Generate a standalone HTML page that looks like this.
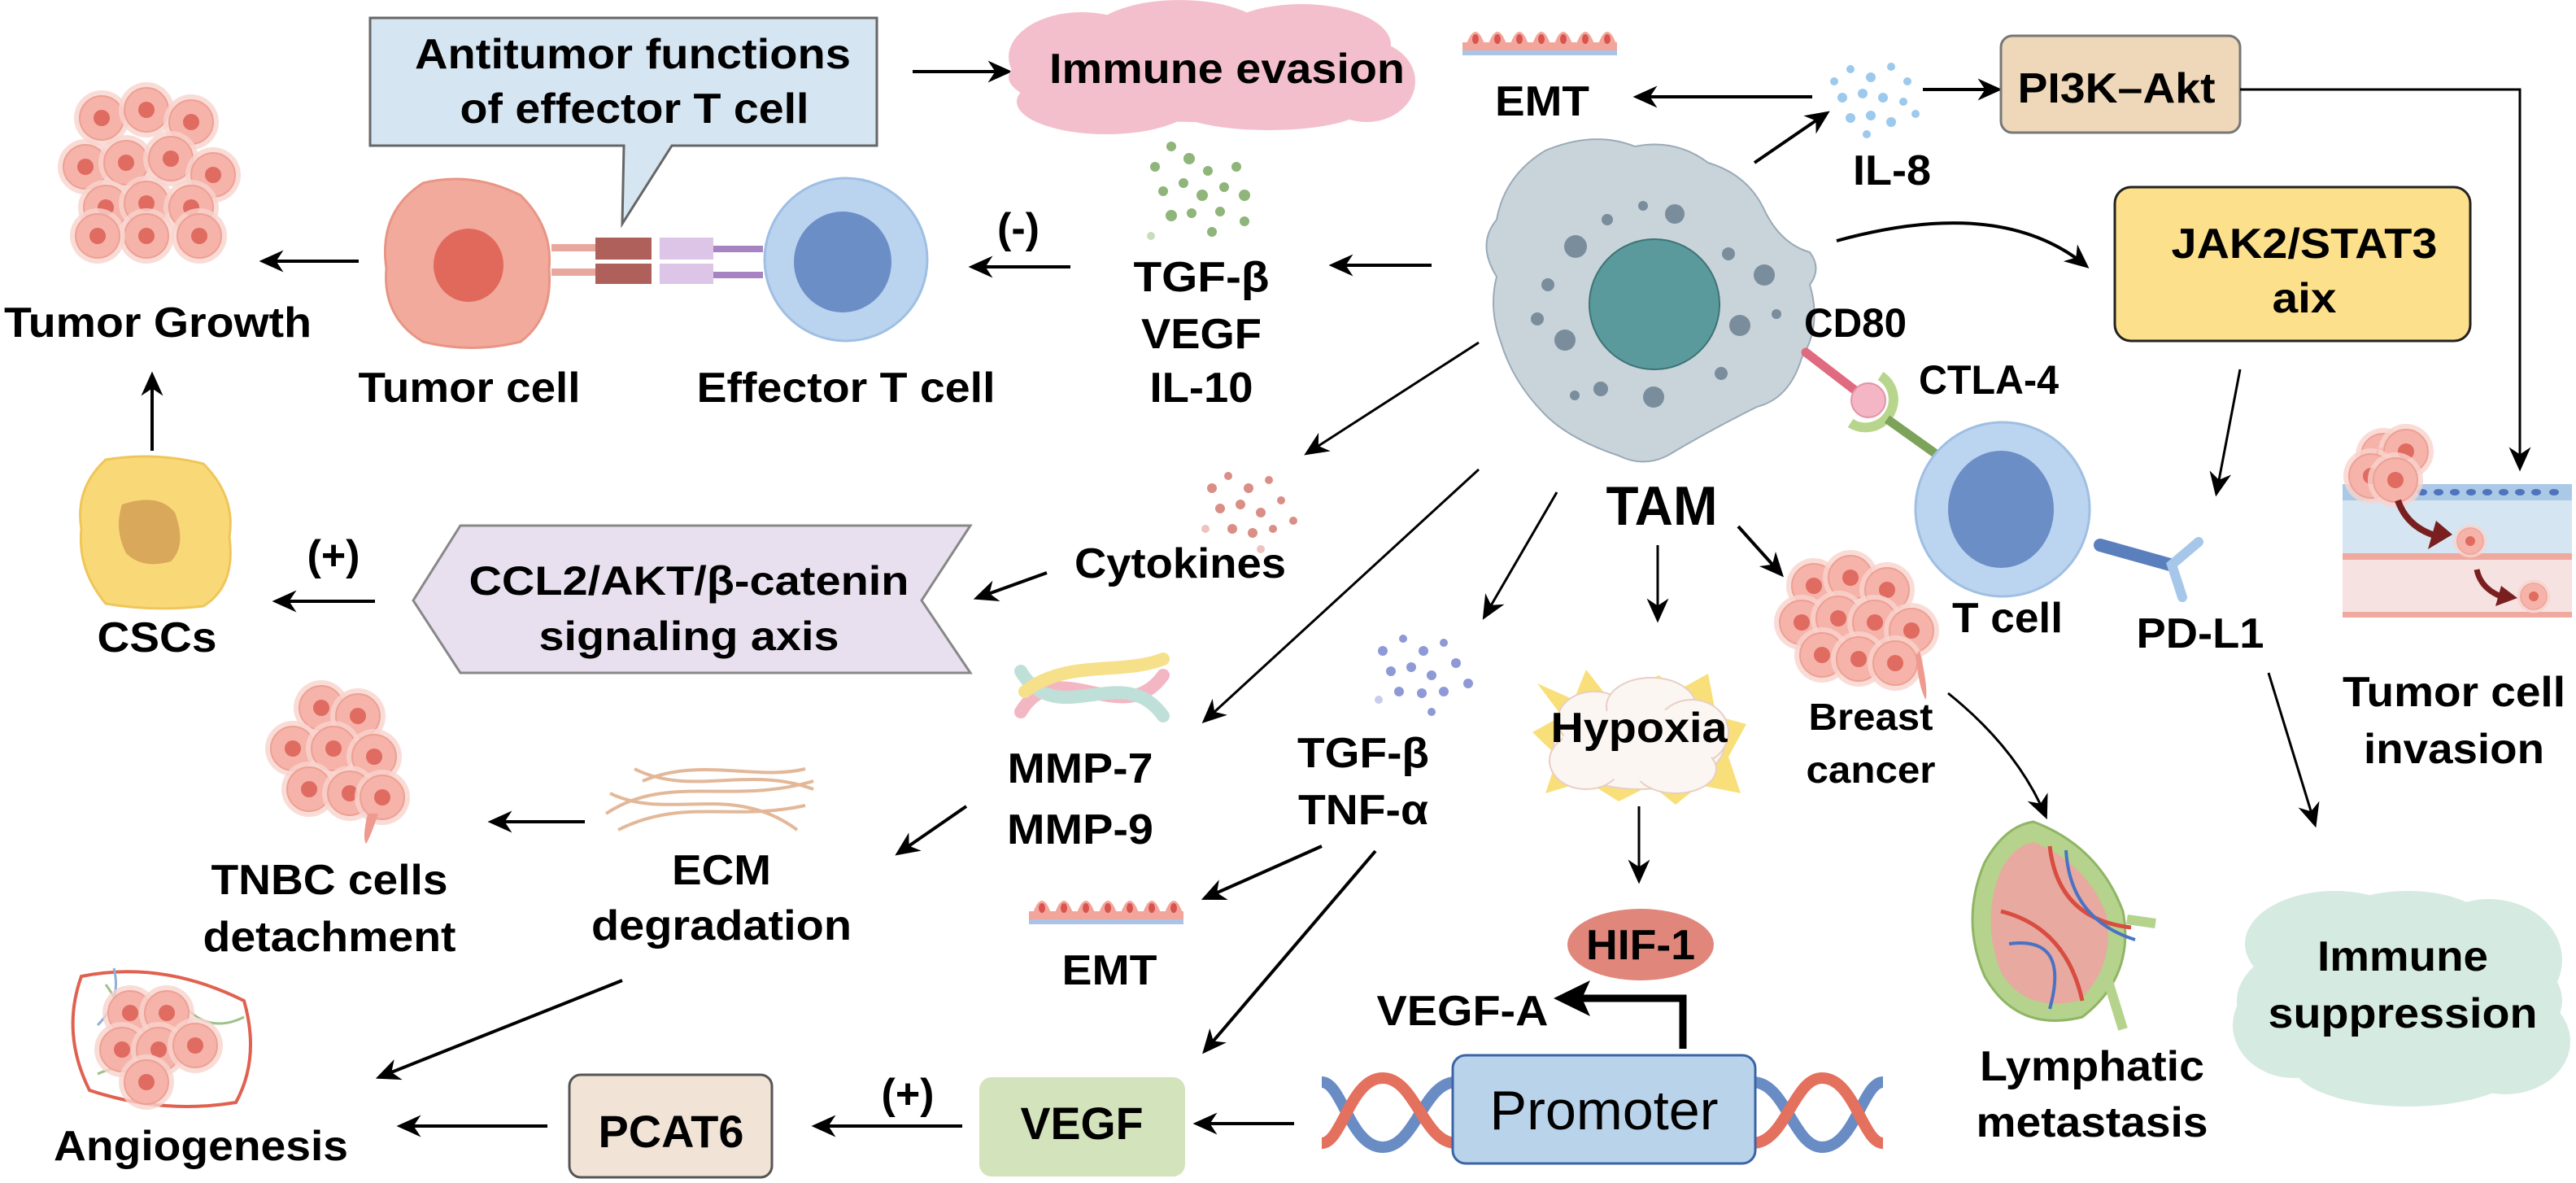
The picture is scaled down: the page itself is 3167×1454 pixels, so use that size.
<!DOCTYPE html>
<html><head><meta charset="utf-8"><style>
html,body{margin:0;padding:0;background:#fff}
svg{display:block}
text{font-family:"Liberation Sans",Arial,sans-serif;font-weight:bold;fill:#000}
</style></head><body>
<svg width="3167" height="1454" viewBox="0 0 3167 1454" xmlns="http://www.w3.org/2000/svg">
<defs>
<marker id="a" viewBox="0 0 20 20" refX="17" refY="10" markerWidth="30" markerHeight="30" markerUnits="userSpaceOnUse" orient="auto">
<path d="M0,1 L20,10 L0,19 L6,10 z" fill="#000"/></marker>
<g id="cell"><circle r="34" fill="#f9d3cd" opacity="0.8"/><circle r="27" fill="#f5b3aa" stroke="#eea094" stroke-width="2"/><circle r="10" fill="#e06b60"/></g>
<g id="emt"><rect x="0" y="18" width="190" height="10" fill="#f2a59a"/><rect x="0" y="28" width="190" height="6" fill="#a9c4e8"/>
<path d="M5,20 q11,-30 22,0 M32,20 q11,-30 22,0 M59,20 q11,-30 22,0 M86,20 q11,-30 22,0 M113,20 q11,-30 22,0 M140,20 q11,-30 22,0 M167,20 q11,-30 22,0" fill="#f2a59a"/>
<g fill="#d9534f"><ellipse cx="16" cy="14" rx="4" ry="6"/><ellipse cx="43" cy="14" rx="4" ry="6"/><ellipse cx="70" cy="14" rx="4" ry="6"/><ellipse cx="97" cy="14" rx="4" ry="6"/><ellipse cx="124" cy="14" rx="4" ry="6"/><ellipse cx="151" cy="14" rx="4" ry="6"/><ellipse cx="178" cy="14" rx="4" ry="6"/></g></g>
</defs>

<path d="M455,22 H1078 V179 H826 L765,275 L767,179 H455 Z" fill="#d5e5f1" stroke="#666" stroke-width="3"/>
<text x="778" y="84" font-size="52" text-anchor="middle" textLength="536" lengthAdjust="spacingAndGlyphs">Antitumor functions</text>
<text x="780" y="151" font-size="52" text-anchor="middle" textLength="429" lengthAdjust="spacingAndGlyphs">of effector T cell</text>
<line x1="1122" y1="88" x2="1240" y2="88" stroke="#000" stroke-width="4" marker-end="url(#a)"/>

<g fill="#f4bfcc">
<ellipse cx="1480" cy="95" rx="240" ry="55"/><ellipse cx="1330" cy="70" rx="90" ry="55"/><ellipse cx="1450" cy="45" rx="110" ry="45"/><ellipse cx="1600" cy="55" rx="110" ry="50"/><ellipse cx="1680" cy="100" rx="60" ry="50"/><ellipse cx="1360" cy="125" rx="110" ry="40"/><ellipse cx="1560" cy="130" rx="120" ry="30"/></g>
<text x="1290" y="102" font-size="52" textLength="437" lengthAdjust="spacingAndGlyphs">Immune evasion</text>

<g>
<use href="#cell" x="125" y="145"/><use href="#cell" x="180" y="135"/><use href="#cell" x="235" y="150"/>
<use href="#cell" x="105" y="205"/><use href="#cell" x="155" y="200"/><use href="#cell" x="210" y="195"/><use href="#cell" x="262" y="215"/>
<use href="#cell" x="130" y="255"/><use href="#cell" x="180" y="250"/><use href="#cell" x="235" y="255"/><use href="#cell" x="180" y="290"/><use href="#cell" x="120" y="290"/><use href="#cell" x="245" y="290"/>
</g>
<text x="194" y="414" font-size="52" text-anchor="middle" textLength="378" lengthAdjust="spacingAndGlyphs">Tumor Growth</text>
<line x1="441" y1="321" x2="323" y2="321" stroke="#000" stroke-width="4" marker-end="url(#a)"/>
<line x1="187" y1="554" x2="187" y2="461" stroke="#000" stroke-width="4" marker-end="url(#a)"/>

<path d="M520,225 Q580,210 640,240 Q680,280 675,330 Q680,390 640,420 Q580,435 520,420 Q470,390 475,330 Q465,260 520,225 Z" fill="#f2aa9c" stroke="#e89585" stroke-width="3"/>
<ellipse cx="576" cy="326" rx="43" ry="45" fill="#e0695c"/>
<rect x="678" y="300" width="54" height="9" fill="#e9a89d"/><rect x="678" y="330" width="54" height="9" fill="#e9a89d"/>
<rect x="732" y="292" width="69" height="27" fill="#b0605a"/><rect x="732" y="324" width="69" height="25" fill="#b0605a"/>
<rect x="811" y="292" width="66" height="27" fill="#dcc5e6"/><rect x="811" y="324" width="66" height="25" fill="#dcc5e6"/>
<rect x="877" y="302" width="61" height="8" fill="#a784c1"/><rect x="877" y="334" width="61" height="8" fill="#a784c1"/>
<circle cx="1040" cy="319" r="100" fill="#bad3ef" stroke="#9fbfe3" stroke-width="3"/>
<ellipse cx="1036" cy="322" rx="60" ry="62" fill="#6b8ec6"/>
<text x="577" y="494" font-size="52" text-anchor="middle" textLength="273" lengthAdjust="spacingAndGlyphs">Tumor cell</text>
<text x="1040" y="494" font-size="52" text-anchor="middle" textLength="367" lengthAdjust="spacingAndGlyphs">Effector T cell</text>
<text x="1252" y="298" font-size="52" text-anchor="middle">(-)</text>
<line x1="1316" y1="328" x2="1195" y2="328" stroke="#000" stroke-width="4" marker-end="url(#a)"/>

<g fill="#8fb57a">
<circle cx="1420" cy="205" r="6"/><circle cx="1440" cy="180" r="6"/><circle cx="1462" cy="195" r="7"/><circle cx="1485" cy="210" r="6"/><circle cx="1505" cy="230" r="6"/><circle cx="1530" cy="240" r="7"/><circle cx="1430" cy="235" r="6"/><circle cx="1455" cy="225" r="6"/><circle cx="1478" cy="240" r="7"/><circle cx="1500" cy="260" r="6"/><circle cx="1440" cy="265" r="7"/><circle cx="1465" cy="262" r="6"/><circle cx="1520" cy="205" r="6"/><circle cx="1490" cy="285" r="6"/><circle cx="1530" cy="272" r="6"/><circle cx="1415" cy="290" r="5" fill="#c9dcbc"/></g>
<text x="1477" y="358" font-size="52" text-anchor="middle" textLength="167" lengthAdjust="spacingAndGlyphs">TGF-β</text>
<text x="1477" y="428" font-size="52" text-anchor="middle" textLength="148" lengthAdjust="spacingAndGlyphs">VEGF</text>
<text x="1477" y="494" font-size="52" text-anchor="middle" textLength="127" lengthAdjust="spacingAndGlyphs">IL-10</text>

<path d="M130,565 Q190,555 250,570 Q290,610 282,660 Q290,720 250,745 Q190,752 130,742 Q95,700 100,650 Q92,600 130,565 Z" fill="#f9d977" stroke="#efc659" stroke-width="3"/>
<path d="M150,620 Q195,605 215,630 Q230,670 210,690 Q175,700 155,680 Q140,650 150,620 Z" fill="#d9a85a"/>
<text x="410" y="700" font-size="52" text-anchor="middle">(+)</text>
<line x1="461" y1="739" x2="339" y2="739" stroke="#000" stroke-width="4" marker-end="url(#a)"/>
<text x="193" y="801" font-size="52" text-anchor="middle" textLength="147" lengthAdjust="spacingAndGlyphs">CSCs</text>

<path d="M566,646 H1193 L1133,738 L1193,827 H566 L508,738 Z" fill="#e9e0ef" stroke="#888" stroke-width="3"/>
<text x="847" y="731" font-size="50" text-anchor="middle" textLength="541" lengthAdjust="spacingAndGlyphs">CCL2/AKT/β-catenin</text>
<text x="847" y="799" font-size="50" text-anchor="middle" textLength="369" lengthAdjust="spacingAndGlyphs">signaling axis</text>

<g fill="#d98f86"><circle cx="1490" cy="600" r="6"/><circle cx="1510" cy="585" r="5"/><circle cx="1535" cy="600" r="6"/><circle cx="1560" cy="590" r="5"/><circle cx="1500" cy="625" r="6"/><circle cx="1525" cy="620" r="6"/><circle cx="1550" cy="630" r="6"/><circle cx="1575" cy="615" r="5"/><circle cx="1515" cy="650" r="6"/><circle cx="1540" cy="655" r="6"/><circle cx="1565" cy="650" r="5"/><circle cx="1590" cy="640" r="5"/><circle cx="1482" cy="650" r="5" fill="#eec2bd"/><circle cx="1550" cy="675" r="5" fill="#eec2bd"/></g>
<text x="1451" y="710" font-size="52" text-anchor="middle" textLength="260" lengthAdjust="spacingAndGlyphs">Cytokines</text>
<line x1="1287" y1="704" x2="1201" y2="735" stroke="#000" stroke-width="4" marker-end="url(#a)"/>

<g fill="none" stroke-width="16" stroke-linecap="round">
<path d="M1255,875 C1300,800 1380,900 1430,830" stroke="#f3b7c4"/>
<path d="M1255,825 C1300,900 1380,810 1430,880" stroke="#bfe0d8"/>
<path d="M1260,850 C1310,810 1380,830 1430,810" stroke="#f6e08a"/>
</g>
<text x="1328" y="962" font-size="52" text-anchor="middle" textLength="179" lengthAdjust="spacingAndGlyphs">MMP-7</text>
<text x="1328" y="1037" font-size="52" text-anchor="middle" textLength="180" lengthAdjust="spacingAndGlyphs">MMP-9</text>
<line x1="1188" y1="991" x2="1104" y2="1049" stroke="#000" stroke-width="4" marker-end="url(#a)"/>

<g fill="none" stroke="#e3b899" stroke-width="4">
<path d="M745,1000 C820,950 900,990 1000,960"/><path d="M760,1020 C840,980 900,1010 990,990"/><path d="M780,945 C850,980 920,940 1000,970"/><path d="M750,975 C820,1010 900,960 980,1020"/><path d="M790,960 C860,930 930,960 990,945"/></g>
<text x="887" y="1087" font-size="52" text-anchor="middle" textLength="122" lengthAdjust="spacingAndGlyphs">ECM</text>
<text x="887" y="1155" font-size="52" text-anchor="middle" textLength="320" lengthAdjust="spacingAndGlyphs">degradation</text>
<line x1="719" y1="1010" x2="604" y2="1010" stroke="#000" stroke-width="4" marker-end="url(#a)"/>
<line x1="765" y1="1205" x2="466" y2="1324" stroke="#000" stroke-width="4" marker-end="url(#a)"/>

<g><use href="#cell" x="395" y="870"/><use href="#cell" x="440" y="880"/><use href="#cell" x="360" y="920"/><use href="#cell" x="410" y="920"/><use href="#cell" x="460" y="930"/><use href="#cell" x="380" y="970"/><use href="#cell" x="430" y="975"/><use href="#cell" x="470" y="980"/></g>
<path d="M465,1000 Q455,1030 450,1037 Q445,1030 452,1000 Z" fill="#ef9a8f"/>
<text x="405" y="1099" font-size="52" text-anchor="middle" textLength="291" lengthAdjust="spacingAndGlyphs">TNBC cells</text>
<text x="405" y="1169" font-size="52" text-anchor="middle" textLength="311" lengthAdjust="spacingAndGlyphs">detachment</text>

<use href="#emt" x="1265" y="1102"/>
<text x="1364" y="1210" font-size="52" text-anchor="middle" textLength="117" lengthAdjust="spacingAndGlyphs">EMT</text>
<line x1="1625" y1="1040" x2="1481" y2="1104" stroke="#000" stroke-width="4" marker-end="url(#a)"/>

<path d="M100,1200 Q200,1180 300,1230 Q320,1300 290,1355 Q200,1370 110,1340 Q75,1270 100,1200 Z" fill="none" stroke="#e0614f" stroke-width="4"/>
<path d="M130,1210 Q160,1250 150,1300 M230,1240 Q260,1270 300,1250 M120,1320 Q160,1300 200,1340" fill="none" stroke="#9fc28a" stroke-width="3"/>
<path d="M140,1190 Q150,1230 120,1260" fill="none" stroke="#8fb0d8" stroke-width="3"/>
<g><use href="#cell" x="160" y="1245"/><use href="#cell" x="205" y="1245"/><use href="#cell" x="150" y="1290"/><use href="#cell" x="195" y="1290"/><use href="#cell" x="240" y="1285"/><use href="#cell" x="180" y="1330"/></g>
<text x="247" y="1426" font-size="52" text-anchor="middle" textLength="362" lengthAdjust="spacingAndGlyphs">Angiogenesis</text>
<line x1="673" y1="1384" x2="492" y2="1384" stroke="#000" stroke-width="4" marker-end="url(#a)"/>
<rect x="700" y="1321" width="249" height="126" rx="14" fill="#f1e4d7" stroke="#555" stroke-width="3"/>
<text x="825" y="1410" font-size="56" text-anchor="middle" textLength="179" lengthAdjust="spacingAndGlyphs">PCAT6</text>
<text x="1116" y="1362" font-size="52" text-anchor="middle">(+)</text>
<line x1="1183" y1="1384" x2="1002" y2="1384" stroke="#000" stroke-width="4" marker-end="url(#a)"/>
<rect x="1204" y="1324" width="253" height="122" rx="15" fill="#d3e3bc"/>
<text x="1330" y="1400" font-size="56" text-anchor="middle" textLength="151" lengthAdjust="spacingAndGlyphs">VEGF</text>
<line x1="1591" y1="1381" x2="1471" y2="1381" stroke="#000" stroke-width="4" marker-end="url(#a)"/>
<line x1="1691" y1="1046" x2="1481" y2="1292" stroke="#000" stroke-width="4" marker-end="url(#a)"/>

<g fill="#8e9ad6"><circle cx="1700" cy="800" r="6"/><circle cx="1725" cy="785" r="5"/><circle cx="1750" cy="800" r="6"/><circle cx="1775" cy="790" r="5"/><circle cx="1710" cy="825" r="6"/><circle cx="1735" cy="820" r="6"/><circle cx="1760" cy="830" r="6"/><circle cx="1790" cy="815" r="6"/><circle cx="1720" cy="850" r="6"/><circle cx="1748" cy="852" r="6"/><circle cx="1775" cy="850" r="6"/><circle cx="1805" cy="840" r="6"/><circle cx="1760" cy="875" r="5"/><circle cx="1695" cy="860" r="5" fill="#c7cdec"/></g>
<text x="1676" y="943" font-size="52" text-anchor="middle" textLength="162" lengthAdjust="spacingAndGlyphs">TGF-β</text>
<text x="1676" y="1013" font-size="52" text-anchor="middle" textLength="160" lengthAdjust="spacingAndGlyphs">TNF-α</text>

<path d="M1890,840 L1935,860 L1950,823 L1975,855 L2040,830 L2060,850 L2100,828 L2110,880 L2147,890 L2125,930 L2140,975 L2090,965 L2060,989 L2030,965 L1990,985 L1950,960 L1900,975 L1915,930 L1884,900 L1920,880 Z" fill="#f8df7a"/>
<g fill="#fbf6f2" stroke="#e8cfc4" stroke-width="2"><ellipse cx="2015" cy="915" rx="105" ry="55"/><ellipse cx="1960" cy="885" rx="45" ry="35"/><ellipse cx="2030" cy="868" rx="55" ry="35"/><ellipse cx="2080" cy="900" rx="45" ry="40"/><ellipse cx="1950" cy="935" rx="45" ry="35"/><ellipse cx="2060" cy="945" rx="50" ry="30"/></g>
<ellipse cx="2015" cy="915" rx="95" ry="45" fill="#fbf6f2"/>
<text x="2015" y="912" font-size="52" text-anchor="middle" textLength="217" lengthAdjust="spacingAndGlyphs">Hypoxia</text>
<line x1="2015" y1="991" x2="2015" y2="1082" stroke="#000" stroke-width="3" marker-end="url(#a)"/>
<ellipse cx="2017" cy="1161" rx="90" ry="44" fill="#e0867b"/>
<text x="2017" y="1179" font-size="52" text-anchor="middle" textLength="134" lengthAdjust="spacingAndGlyphs">HIF-1</text>
<text x="1798" y="1260" font-size="52" text-anchor="middle" textLength="211" lengthAdjust="spacingAndGlyphs">VEGF-A</text>
<path d="M2069,1289 V1227 H1940" fill="none" stroke="#000" stroke-width="9"/>
<path d="M1910,1227 L1955,1205 L1945,1227 L1955,1249 Z" fill="#000"/>

<g fill="none" stroke-width="14">
<path d="M1625,1330 C1650,1330 1660,1410 1700,1410 C1740,1410 1750,1330 1790,1330" stroke="#6a8cc4"/>
<path d="M2155,1330 C2195,1330 2205,1410 2240,1410 C2280,1410 2290,1330 2315,1330" stroke="#6a8cc4"/>
<path d="M1625,1405 C1650,1405 1660,1325 1700,1325 C1740,1325 1750,1405 1790,1405" stroke="#e4705e"/>
<path d="M2155,1405 C2195,1405 2205,1325 2240,1325 C2280,1325 2290,1405 2315,1405" stroke="#e4705e"/>
</g>
<rect x="1786" y="1297" width="372" height="133" rx="16" fill="#b9d3ea" stroke="#3a64a6" stroke-width="3"/>
<text x="1972" y="1388" font-size="68" style="font-weight:normal" text-anchor="middle" textLength="281" lengthAdjust="spacingAndGlyphs">Promoter</text>

<path d="M1900,185 Q1960,160 2010,180 Q2060,170 2100,200 Q2150,215 2170,260 Q2190,300 2225,310 Q2240,330 2225,350 Q2240,400 2215,440 Q2200,490 2160,500 Q2100,530 2050,560 Q2020,575 1990,560 Q1930,540 1900,510 Q1860,470 1845,420 Q1830,380 1840,340 Q1815,300 1840,270 Q1850,215 1900,185 Z" fill="#c9d3da" stroke="#9aabb7" stroke-width="2"/>
<circle cx="2034" cy="374" r="80" fill="#5a9a9d" stroke="#3d7375" stroke-width="2"/>
<g fill="#7a8d9c"><circle cx="1937" cy="303" r="14"/><circle cx="2059" cy="263" r="12"/><circle cx="1976" cy="270" r="7"/><circle cx="2020" cy="253" r="6"/><circle cx="1903" cy="350" r="8"/><circle cx="1890" cy="392" r="8"/><circle cx="1924" cy="418" r="13"/><circle cx="1968" cy="478" r="9"/><circle cx="1936" cy="486" r="6"/><circle cx="2033" cy="488" r="13"/><circle cx="2125" cy="312" r="8"/><circle cx="2169" cy="338" r="13"/><circle cx="2139" cy="400" r="13"/><circle cx="2184" cy="386" r="6"/><circle cx="2116" cy="459" r="8"/></g>
<text x="2043" y="645" font-size="68" text-anchor="middle" textLength="137" lengthAdjust="spacingAndGlyphs">TAM</text>

<line x1="1760" y1="326" x2="1638" y2="326" stroke="#000" stroke-width="4" marker-end="url(#a)"/>
<line x1="1818" y1="421" x2="1607" y2="557" stroke="#000" stroke-width="3" marker-end="url(#a)"/>
<line x1="1818" y1="577" x2="1481" y2="886" stroke="#000" stroke-width="3" marker-end="url(#a)"/>
<line x1="1914" y1="605" x2="1825" y2="758" stroke="#000" stroke-width="3" marker-end="url(#a)"/>
<line x1="2038" y1="670" x2="2038" y2="761" stroke="#000" stroke-width="3" marker-end="url(#a)"/>
<line x1="2137" y1="647" x2="2190" y2="706" stroke="#000" stroke-width="4" marker-end="url(#a)"/>
<line x1="2157" y1="200" x2="2246" y2="139" stroke="#000" stroke-width="4" marker-end="url(#a)"/>
<path d="M2258,296 Q2460,240 2565,327" fill="none" stroke="#000" stroke-width="4" marker-end="url(#a)"/>

<use href="#emt" x="1798" y="34"/>
<text x="1896" y="142" font-size="52" text-anchor="middle" textLength="116" lengthAdjust="spacingAndGlyphs">EMT</text>
<line x1="2228" y1="119" x2="2012" y2="119" stroke="#000" stroke-width="4" marker-end="url(#a)"/>
<g fill="#9cc9ec"><circle cx="2255" cy="100" r="5"/><circle cx="2275" cy="85" r="5"/><circle cx="2300" cy="95" r="6"/><circle cx="2325" cy="82" r="5"/><circle cx="2345" cy="100" r="5"/><circle cx="2265" cy="120" r="6"/><circle cx="2290" cy="115" r="6"/><circle cx="2315" cy="120" r="6"/><circle cx="2340" cy="125" r="5"/><circle cx="2275" cy="145" r="6"/><circle cx="2300" cy="142" r="6"/><circle cx="2325" cy="150" r="6"/><circle cx="2355" cy="140" r="5"/><circle cx="2295" cy="165" r="5"/></g>
<text x="2326" y="227" font-size="52" text-anchor="middle" textLength="96" lengthAdjust="spacingAndGlyphs">IL-8</text>
<line x1="2364" y1="110" x2="2457" y2="110" stroke="#000" stroke-width="4" marker-end="url(#a)"/>
<rect x="2460" y="44" width="294" height="119" rx="14" fill="#eed8b9" stroke="#777" stroke-width="3"/>
<text x="2602" y="126" font-size="52" text-anchor="middle" textLength="243" lengthAdjust="spacingAndGlyphs">PI3K–Akt</text>
<path d="M2754,110 H3098 V575" fill="none" stroke="#000" stroke-width="3" marker-end="url(#a)"/>

<rect x="2600" y="230" width="437" height="189" rx="20" fill="#fde08b" stroke="#222" stroke-width="3"/>
<text x="2833" y="317" font-size="52" text-anchor="middle" textLength="327" lengthAdjust="spacingAndGlyphs">JAK2/STAT3</text>
<text x="2833" y="384" font-size="52" text-anchor="middle" textLength="79" lengthAdjust="spacingAndGlyphs">aix</text>
<line x1="2754" y1="454" x2="2725" y2="606" stroke="#000" stroke-width="3" marker-end="url(#a)"/>

<text x="2281" y="414" font-size="50" text-anchor="middle" textLength="126" lengthAdjust="spacingAndGlyphs">CD80</text>
<text x="2445" y="484" font-size="50" text-anchor="middle" textLength="172" lengthAdjust="spacingAndGlyphs">CTLA-4</text>
<line x1="2220" y1="433" x2="2285" y2="483" stroke="#e06a80" stroke-width="11" stroke-linecap="round"/>
<path d="M2312,462 A30,30 0 0 1 2275,520" fill="none" stroke="#b8d58e" stroke-width="12"/>
<line x1="2320" y1="515" x2="2390" y2="565" stroke="#7da35a" stroke-width="11"/>
<circle cx="2297" cy="492" r="21" fill="#f4b6c4" stroke="#e493a8" stroke-width="2"/>
<circle cx="2462" cy="626" r="107" fill="#bbd4f0" stroke="#9fbfe3" stroke-width="3"/>
<ellipse cx="2460" cy="626" rx="65" ry="72" fill="#6b8ec6"/>
<path d="M2582,670 L2668,694" stroke="#5a7fbd" stroke-width="16" stroke-linecap="round"/>
<path d="M2703,666 L2670,694 L2683,734" fill="none" stroke="#a7c7ea" stroke-width="12" stroke-linecap="round"/>
<text x="2468" y="777" font-size="52" text-anchor="middle" textLength="136" lengthAdjust="spacingAndGlyphs">T cell</text>
<text x="2705" y="796" font-size="52" text-anchor="middle" textLength="157" lengthAdjust="spacingAndGlyphs">PD-L1</text>
<line x1="2789" y1="827" x2="2846" y2="1013" stroke="#000" stroke-width="3" marker-end="url(#a)"/>

<g><use href="#cell" x="2230" y="720"/><use href="#cell" x="2275" y="710"/><use href="#cell" x="2320" y="725"/><use href="#cell" x="2215" y="765"/><use href="#cell" x="2260" y="760"/><use href="#cell" x="2305" y="765"/><use href="#cell" x="2350" y="775"/><use href="#cell" x="2240" y="805"/><use href="#cell" x="2285" y="810"/><use href="#cell" x="2330" y="815"/></g>
<path d="M2360,800 Q2370,840 2368,860 Q2360,850 2355,805 Z" fill="#ef9a8f"/>
<text x="2300" y="897" font-size="46" text-anchor="middle" textLength="153" lengthAdjust="spacingAndGlyphs">Breast</text>
<text x="2300" y="962" font-size="46" text-anchor="middle" textLength="159" lengthAdjust="spacingAndGlyphs">cancer</text>
<path d="M2395,852 Q2480,920 2515,1003" fill="none" stroke="#000" stroke-width="3" marker-end="url(#a)"/>

<path d="M2500,1010 Q2580,1040 2610,1120 Q2625,1200 2560,1250 Q2480,1270 2440,1200 Q2410,1130 2440,1060 Q2465,1015 2500,1010 Z" fill="#b5d38c" stroke="#8fb565" stroke-width="3"/>
<path d="M2500,1035 Q2565,1060 2590,1125 Q2600,1190 2555,1230 Q2490,1245 2460,1195 Q2435,1130 2460,1070 Q2475,1040 2500,1035 Z" fill="#e7a9a0"/>
<path d="M2520,1040 Q2530,1130 2620,1140 M2460,1120 Q2540,1140 2560,1230" fill="none" stroke="#d94c40" stroke-width="5"/>
<path d="M2540,1045 Q2545,1130 2625,1155 M2470,1160 Q2545,1150 2520,1240" fill="none" stroke="#4a72c4" stroke-width="4"/>
<path d="M2615,1130 L2650,1135 M2590,1200 L2610,1265" stroke="#b5d38c" stroke-width="12"/>
<text x="2572" y="1328" font-size="52" text-anchor="middle" textLength="276" lengthAdjust="spacingAndGlyphs">Lymphatic</text>
<text x="2572" y="1397" font-size="52" text-anchor="middle" textLength="285" lengthAdjust="spacingAndGlyphs">metastasis</text>

<g fill="#d5eae0">
<ellipse cx="2950" cy="1230" rx="200" ry="95"/><ellipse cx="2870" cy="1160" rx="110" ry="65"/><ellipse cx="2960" cy="1140" rx="100" ry="45"/><ellipse cx="3060" cy="1180" rx="90" ry="75"/><ellipse cx="2820" cy="1260" rx="75" ry="65"/><ellipse cx="3080" cy="1280" rx="80" ry="65"/><ellipse cx="2960" cy="1310" rx="140" ry="50"/></g>
<text x="2954" y="1193" font-size="52" text-anchor="middle" textLength="210" lengthAdjust="spacingAndGlyphs">Immune</text>
<text x="2954" y="1263" font-size="52" text-anchor="middle" textLength="331" lengthAdjust="spacingAndGlyphs">suppression</text>

<rect x="2880" y="615" width="282" height="68" fill="#d5e6f2"/>
<rect x="2880" y="595" width="282" height="20" fill="#a9c9e6"/>
<g fill="#4f73bd"><ellipse cx="2905" cy="605" rx="6" ry="4"/><ellipse cx="2925" cy="605" rx="6" ry="4"/><ellipse cx="2978" cy="605" rx="6" ry="4"/><ellipse cx="2998" cy="605" rx="6" ry="4"/><ellipse cx="3018" cy="605" rx="6" ry="4"/><ellipse cx="3038" cy="605" rx="6" ry="4"/><ellipse cx="3058" cy="605" rx="6" ry="4"/><ellipse cx="3078" cy="605" rx="6" ry="4"/><ellipse cx="3098" cy="605" rx="6" ry="4"/><ellipse cx="3118" cy="605" rx="6" ry="4"/><ellipse cx="3140" cy="605" rx="6" ry="4"/></g>
<rect x="2880" y="683" width="282" height="72" fill="#f6e2e1"/>
<rect x="2880" y="680" width="282" height="8" fill="#efa99f"/><rect x="2880" y="752" width="282" height="7" fill="#efa99f"/>
<g><use href="#cell" x="2930" y="560"/><use href="#cell" x="2958" y="555"/><use href="#cell" x="2915" y="585"/><use href="#cell" x="2945" y="590"/></g>
<path d="M2948,615 Q2960,650 3000,660" fill="none" stroke="#7a1f1f" stroke-width="8"/>
<path d="M2985,675 L3015,657 L2995,640 Z" fill="#7a1f1f"/>
<use href="#cell" x="3037" y="665" transform="translate(3037,665) scale(0.6) translate(-3037,-665)"/>
<path d="M3045,700 Q3050,725 3080,735" fill="none" stroke="#7a1f1f" stroke-width="7"/>
<path d="M3068,745 L3095,735 L3075,720 Z" fill="#7a1f1f"/>
<use href="#cell" x="3115" y="733" transform="translate(3115,733) scale(0.6) translate(-3115,-733)"/>
<text x="3017" y="868" font-size="52" text-anchor="middle" textLength="274" lengthAdjust="spacingAndGlyphs">Tumor cell</text>
<text x="3017" y="938" font-size="52" text-anchor="middle" textLength="222" lengthAdjust="spacingAndGlyphs">invasion</text>
</svg>
</body></html>
